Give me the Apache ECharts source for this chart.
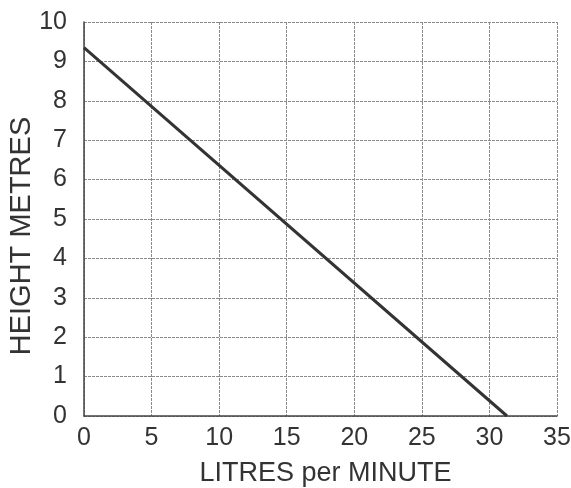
<!DOCTYPE html>
<html>
<head>
<meta charset="utf-8">
<script src="https://cdn.jsdelivr.net/npm/echarts@6/dist/echarts.min.js"></script>
<style>
    html, body { margin: 0; padding: 0; background: #fff; }
    #chart { width: 571px; height: 488px; }
</style>
</head>
<body>
<div id="chart"></div>
<script>
// 流量与高度的数据
const flowValues = [0, 31.3];
const heightValues = [9.35, 0];
const xTicks = [0, 5, 10, 15, 20, 25, 30, 35];
const yTicks = [0, 1, 2, 3, 4, 5, 6, 7, 8, 9, 10];

const linePoints = flowValues.map((x, i) => [x, heightValues[i]]);

let chart = echarts.init(document.getElementById('chart'));

let option = {
    backgroundColor: '#fff',
    animation: false,
    grid: {
        left: 84,
        right: 14,
        top: 22,
        bottom: 72,
        containLabel: false,
        outerBoundsMode: 'none'
    },
    xAxis: {
        type: 'value',
        min: xTicks[0],
        max: xTicks[xTicks.length - 1],
        interval: 5,
        name: 'LITRES per MINUTE',
        nameLocation: 'middle',
        nameGap: 44,
        nameTextStyle: { fontFamily: 'Liberation Sans', fontSize: 27, color: '#333', padding: [0, 0, 0, 10] },
        axisLine: { lineStyle: { color: '#444', width: 1.5 } },
        axisTick: { show: false },
        axisLabel: { fontFamily: 'Liberation Sans', fontSize: 25, color: '#333', margin: 10 },
        splitLine: { show: true, lineStyle: { color: '#8a8a8a', width: 1, type: [3, 1] } }
    },
    yAxis: {
        type: 'value',
        min: yTicks[0],
        max: yTicks[yTicks.length - 1],
        interval: 1,
        name: 'HEIGHT METRES',
        nameLocation: 'middle',
        nameGap: 48,
        nameMoveOverlap: false,
        nameTextStyle: { fontFamily: 'Liberation Sans', fontSize: 29, color: '#333', padding: [0, 34, 0, 0] },
        axisLine: { show: true, lineStyle: { color: '#444', width: 1.5 } },
        axisTick: { show: false },
        axisLabel: { fontFamily: 'Liberation Sans', fontSize: 25, color: '#333', margin: 17 },
        splitLine: { show: true, lineStyle: { color: '#8a8a8a', width: 1, type: [3, 1] } }
    },
    series: [
        {
            type: 'line',
            data: linePoints,
            showSymbol: false,
            lineStyle: { color: '#333', width: 3 }
        }
    ]
};

chart.setOption(option);
</script>
</body>
</html>
